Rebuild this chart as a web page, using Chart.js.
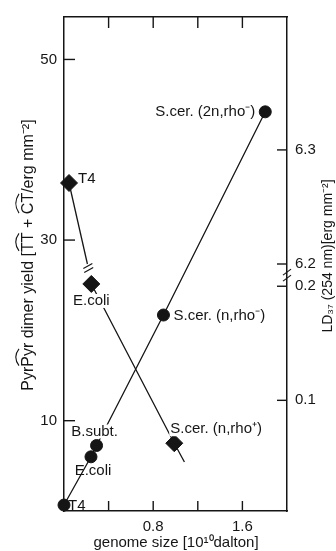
<!DOCTYPE html>
<html><head><meta charset="utf-8">
<script src="https://cdn.jsdelivr.net/npm/chart.js@4/dist/chart.umd.min.js"></script>
<style>html,body{margin:0;padding:0;background:#fff;}</style>
</head><body>
<canvas id="c" width="336" height="551" style="display:block;width:336px;height:551px"></canvas>
<script>
// ---- data ----
const dimerGenome = [0.0, 0.242, 0.292, 0.892, 1.805];
const dimerYield  = [0.66, 6.0, 7.25, 21.7, 44.2];
const dimerNames  = ['T4', 'E.coli', 'B.subt.', 'S.cer. (n,rho\u207B)', 'S.cer. (2n,rho\u207B)'];

const ldGenome = [0.045, 0.245, 0.989];
const ldValues = [6.271, 0.202, 0.0624];
const ldNames  = ['T4', 'E.coli', 'S.cer. (n,rho\u207A)'];

const ldUpperGenome = [0.045, 0.21];
const ldUpperValues = [6.271, 6.2];
const ldLowerGenome = [0.245, 0.989, 1.08];
const ldLowerValues = [0.202, 0.0624, 0.046];

const xTickValues  = [0.4, 0.8, 1.2, 1.6];
const xTickLabels  = ['', '0.8', '', '1.6'];
const yTickValues  = [10, 30, 50];
const ldTickValues = [0.1, 0.2, 6.2, 6.3];
const ldTickLabels = ['0.1', '0.2', '6.2', '6.3'];

// ---- axis break for the right (LD37) axis ----
const LD_BREAK_LOW = 0.2, LD_BREAK_HIGH = 6.2, LD_GAP = 0.0195;
const ldToAxis = v => (v < (LD_BREAK_LOW + LD_BREAK_HIGH) / 2) ? v : v - LD_BREAK_HIGH + LD_BREAK_LOW + LD_GAP;

const FONT = "'Liberation Sans', Arial, sans-serif";
const INK = '#151515';
const LEFT_TITLE = 'PyrPyr dimer yield [TT + CT/erg mm\u207B\u00B2]';
const RIGHT_TITLE = 'LD\u2083\u2087 (254 nm)[erg mm\u207B\u00B2]';
const BOTTOM_TITLE = 'genome size [10\u00B9\u2070dalton]';

const dimerLabelStyle = [
  {dx: 4, dy: 1, align: 'left'},
  {dx: 2, dy: 14, align: 'center'},
  {dx: -2, dy: -14, align: 'center', bg: true},
  {dx: 10, dy: 1, align: 'left'},
  {dx: -10, dy: 0, align: 'right'}
];
const ldLabelStyle = [
  {dx: 9, dy: -4, align: 'left'},
  {dx: 0, dy: 17, align: 'center', bg: true},
  {dx: -4, dy: -14, align: 'left', bg: true}
];

const pts = (xs, ys, f) => xs.map((x, i) => ({x, y: f ? f(ys[i]) : ys[i]}));

const labelPlugin = {
  id: 'pointLabels',
  afterDatasetsDraw(chart) {
    const ctx = chart.ctx;
    ctx.save();
    ctx.font = '15px ' + FONT;
    ctx.textBaseline = 'middle';
    const groups = [[2, dimerNames, dimerLabelStyle], [3, ldNames, ldLabelStyle]];
    for (const [di, names, styles] of groups) {
      const meta = chart.getDatasetMeta(di);
      meta.data.forEach((el, i) => {
        const s = styles[i];
        const x = el.x + s.dx, y = el.y + s.dy;
        const w = ctx.measureText(names[i]).width;
        let left = s.align === 'left' ? x : s.align === 'right' ? x - w : x - w / 2;
        if (s.bg) { ctx.fillStyle = '#fff'; ctx.fillRect(left - 1, y - 7, w + 2, 14); }
        ctx.fillStyle = INK;
        ctx.textAlign = 'left';
        ctx.fillText(names[i], left, y);
      });
    }
    // break mark on the upper LD line
    const up = chart.getDatasetMeta(0).data;
    const e = up[up.length - 1];
    ctx.strokeStyle = INK; ctx.lineWidth = 1.2;
    for (const off of [2, 6]) {
      const cx = e.x + off * 0.22, cy = e.y + off;
      ctx.beginPath(); ctx.moveTo(cx - 4.5, cy + 2.5); ctx.lineTo(cx + 4.5, cy - 2.5); ctx.stroke();
    }
    ctx.restore();
  }
};

const frameTicksPlugin = {
  id: 'frameTicks',
  afterDraw(chart) {
    const ctx = chart.ctx, a = chart.chartArea;
    ctx.save();
    ctx.strokeStyle = INK; ctx.lineWidth = 1.4;
    const sx = chart.scales.x, st = chart.scales.xTop, sy = chart.scales.y, sr = chart.scales.yR;
    sx.ticks.forEach(t => { const p = sx.getPixelForValue(t.value); ctx.beginPath(); ctx.moveTo(p, a.bottom); ctx.lineTo(p, a.bottom - 10); ctx.stroke(); });
    st.ticks.forEach(t => { const p = st.getPixelForValue(t.value); ctx.beginPath(); ctx.moveTo(p, a.top); ctx.lineTo(p, a.top + 11); ctx.stroke(); });
    sy.ticks.forEach(t => { const p = sy.getPixelForValue(t.value); ctx.beginPath(); ctx.moveTo(a.left, p); ctx.lineTo(a.left + 11, p); ctx.stroke(); });
    sr.ticks.forEach(t => { const p = sr.getPixelForValue(t.value); ctx.beginPath(); ctx.moveTo(a.right, p); ctx.lineTo(a.right - 10, p); ctx.stroke(); });
    // axis break mark on the right axis
    const yb = (sr.getPixelForValue(ldToAxis(LD_BREAK_LOW)) + sr.getPixelForValue(ldToAxis(LD_BREAK_HIGH))) / 2;
    ctx.lineWidth = 1.2;
    for (const off of [-3, 3]) {
      ctx.beginPath(); ctx.moveTo(a.right - 4, yb + off + 3); ctx.lineTo(a.right + 4, yb + off - 3); ctx.stroke();
    }

    // titles
    ctx.fillStyle = INK;
    // left title with hats
    ctx.save();
    ctx.font = '16px ' + FONT;
    ctx.translate(27, 255);
    ctx.rotate(-Math.PI / 2);
    const w = ctx.measureText(LEFT_TITLE).width;
    const x0 = -w / 2;
    ctx.textAlign = 'left'; ctx.textBaseline = 'alphabetic';
    ctx.fillText(LEFT_TITLE, x0, 5.5);
    const cap = 6.5;
    const hat = (i0, i1) => {
      const xa = x0 + ctx.measureText(LEFT_TITLE.slice(0, i0)).width + 1;
      const xb = x0 + ctx.measureText(LEFT_TITLE.slice(0, i1)).width - 1;
      ctx.beginPath();
      ctx.moveTo(xa, -cap - 1.5);
      ctx.quadraticCurveTo((xa + xb) / 2, -cap - 8, xb, -cap - 1.5);
      ctx.lineWidth = 1.1; ctx.stroke();
    };
    hat(3, 5);
    const iT = LEFT_TITLE.indexOf('TT'); hat(iT, iT + 2);
    const iC = LEFT_TITLE.indexOf('CT'); hat(iC, iC + 2);
    ctx.restore();
    // right title
    ctx.save();
    ctx.translate(328, 256);
    ctx.rotate(-Math.PI / 2);
    ctx.font = '14px ' + FONT;
    ctx.textAlign = 'center'; ctx.textBaseline = 'middle';
    ctx.fillText(RIGHT_TITLE, 0, 0);
    ctx.restore();
    // bottom title
    ctx.font = '15px ' + FONT;
    ctx.textAlign = 'center'; ctx.textBaseline = 'middle';
    ctx.fillText(BOTTOM_TITLE, 176, 543);
    ctx.restore();
  }
};

const tickFont = {family: FONT, size: 15};
const border = {display: true, color: INK, width: 1.5};
const noGrid = {display: false, drawTicks: false};

new Chart(document.getElementById('c'), {
  type: 'scatter',
  data: {
    datasets: [
      {label: 'LD37 upper', data: pts(ldUpperGenome, ldUpperValues, ldToAxis), xAxisID: 'x', yAxisID: 'yR',
       showLine: true, pointRadius: 0, borderColor: INK, borderWidth: 1.3, clip: false},
      {label: 'LD37 lower', data: pts(ldLowerGenome, ldLowerValues, ldToAxis), xAxisID: 'x', yAxisID: 'yR',
       showLine: true, pointRadius: 0, borderColor: INK, borderWidth: 1.3, clip: false},
      {label: 'PyrPyr dimer yield', data: pts(dimerGenome, dimerYield), xAxisID: 'x', yAxisID: 'y',
       showLine: true, pointStyle: 'circle', pointRadius: 6, pointHoverRadius: 6, pointBorderWidth: 1,
       backgroundColor: INK, borderColor: INK, borderWidth: 1.3, clip: false},
      {label: 'LD37', data: pts(ldGenome, ldValues, ldToAxis), xAxisID: 'x', yAxisID: 'yR',
       showLine: false, pointStyle: 'rectRot', pointRadius: 8.5, pointHoverRadius: 8.5, pointBorderWidth: 1,
       backgroundColor: INK, borderColor: INK, clip: false}
    ]
  },
  options: {
    responsive: false, animation: false, devicePixelRatio: 1,
    layout: {padding: 0},
    plugins: {legend: {display: false}, tooltip: {enabled: false}},
    scales: {
      x: {type: 'linear', position: 'bottom', min: 0, max: 2.0,
          grid: noGrid, border,
          ticks: {font: tickFont, color: INK, padding: 7, maxRotation: 0, autoSkip: false,
                  callback: (v, i) => xTickLabels[i]},
          afterBuildTicks: s => { s.ticks = xTickValues.map(v => ({value: v})); },
          afterFit: s => { s.height = 40; }},
      xTop: {type: 'linear', position: 'top', min: 0, max: 2.0,
          grid: noGrid, border, ticks: {display: false},
          afterBuildTicks: s => { s.ticks = xTickValues.map(v => ({value: v})); },
          afterFit: s => { s.height = 13; }},
      y: {type: 'linear', position: 'left', min: 0, max: 54.7,
          grid: noGrid, border,
          ticks: {font: tickFont, color: INK, padding: 7},
          afterBuildTicks: s => { s.ticks = yTickValues.map(v => ({value: v})); },
          afterFit: s => { s.width = 64; }},
      yR: {type: 'linear', position: 'right', min: 0.003, max: 0.436,
          grid: noGrid, border,
          ticks: {font: tickFont, color: INK, padding: 8, callback: (v, i) => ldTickLabels[i]},
          afterBuildTicks: s => { s.ticks = ldTickValues.map(v => ({value: ldToAxis(v)})); },
          afterFit: s => { s.width = 49; }}
    }
  },
  plugins: [labelPlugin, frameTicksPlugin]
});
</script>
</body></html>
